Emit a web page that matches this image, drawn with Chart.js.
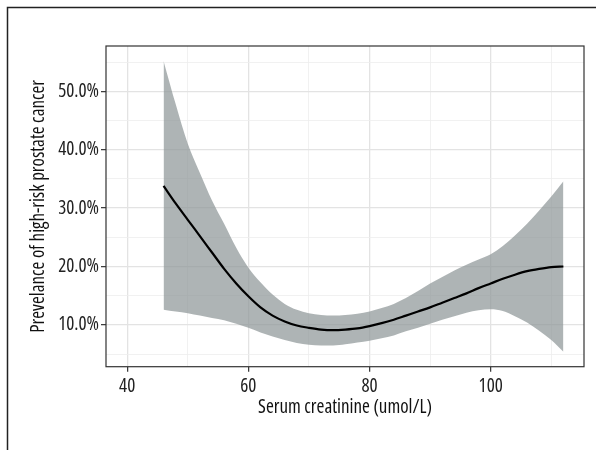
<!DOCTYPE html>
<html>
<head>
<meta charset="utf-8">
<script src="https://cdn.jsdelivr.net/npm/chart.js@4/dist/chart.umd.min.js"></script>
<style>
    html, body { margin: 0; padding: 0; background: #fff; }
    #wrap { width: 596px; height: 450px; position: relative; }
</style>
</head>
<body>
<div id="wrap"><canvas id="curveChart" width="596" height="450"></canvas></div>
<script>
// Serum creatinine vs prevalence, smoothed curve with confidence band
const creatinine = [46, 48, 50, 52, 54, 56, 58, 60, 62, 64, 66, 68, 70, 72, 74, 76, 78,
    80, 82, 84, 86, 88, 90, 92, 94, 96, 98, 100, 102, 104, 106, 108, 110, 112];
const prevalence = [33.8, 30.8, 28.0, 25.2, 22.4, 19.6, 17.1, 14.9, 13.0, 11.6, 10.6, 9.9, 9.5, 9.2, 9.1, 9.2, 9.4,
    9.8, 10.3, 10.9, 11.6, 12.3, 13.0, 13.8, 14.6, 15.4, 16.3, 17.1, 17.9, 18.6, 19.2, 19.6, 19.9, 20.0];
const upperCI = [55.2, 47.8, 41.0, 36.0, 31.3, 27.3, 23.2, 19.8, 17.3, 15.2, 13.6, 12.6, 12.0, 11.7, 11.6, 11.7, 11.9,
    12.3, 12.9, 13.6, 14.6, 15.8, 17.1, 18.2, 19.3, 20.3, 21.2, 22.1, 23.5, 25.3, 27.3, 29.6, 32.0, 34.6];
const lowerCI = [12.6, 12.3, 12.0, 11.6, 11.2, 10.8, 10.2, 9.5, 8.7, 8.0, 7.4, 6.9, 6.6, 6.5, 6.5, 6.7, 7.0,
    7.3, 7.7, 8.2, 8.9, 9.5, 10.2, 10.9, 11.5, 12.1, 12.5, 12.7, 12.4, 11.5, 10.4, 9.0, 7.4, 5.4];
const xTicks = [40, 50, 60, 70, 80, 90, 100, 110];
const yTicks = [5, 10, 15, 20, 25, 30, 35, 40, 45, 50, 55];

// узкий шрифт: Open Sans со stretch condensed (через поле weight попадает в строку ctx.font)
const axisFont = { family: "'Open Sans', sans-serif", size: 19, weight: "condensed" };

const toPoints = (ys) => creatinine.map((x, i) => ({ x: x, y: ys[i] }));

// рамка панели и внешняя рамка картинки
const framePlugin = {
    id: "frame",
    beforeDraw(chart) {
        const c = chart.ctx;
        c.save();
        c.fillStyle = "#fff";
        c.fillRect(0, 0, chart.width, chart.height);
        c.strokeStyle = "#222";
        c.lineWidth = 1.5;
        c.beginPath();
        c.moveTo(7.5, chart.height);
        c.lineTo(7.5, 7.5);
        c.lineTo(chart.width, 7.5);
        c.stroke();
        c.restore();
    },
    afterDraw(chart) {
        const a = chart.chartArea;
        const c = chart.ctx;
        c.save();
        c.strokeStyle = "#333";
        c.lineWidth = 1.2;
        c.strokeRect(a.left, a.top, a.right - a.left, a.bottom - a.top);
        c.restore();
    },
};

const isMajorX = (v) => v % 20 === 0;
const isMajorY = (v) => v % 10 === 0;

new Chart(document.getElementById("curveChart"), {
    type: "line",
    data: {
        datasets: [
            {
                label: "upper",
                data: toPoints(upperCI),
                borderWidth: 0,
                pointRadius: 0,
                backgroundColor: "rgba(140, 148, 150, 0.7)",
                fill: "+1",
                order: 2,
                cubicInterpolationMode: "monotone",
            },
            {
                label: "lower",
                data: toPoints(lowerCI),
                borderWidth: 0,
                pointRadius: 0,
                fill: false,
                order: 2,
                cubicInterpolationMode: "monotone",
            },
            {
                label: "fit",
                data: toPoints(prevalence),
                borderColor: "#000",
                borderWidth: 2.2,
                pointRadius: 0,
                fill: false,
                order: 0,
                cubicInterpolationMode: "monotone",
            },
        ],
    },
    options: {
        responsive: false,
        animation: false,
        layout: { padding: { top: 46, right: 12, left: 0, bottom: 0 } },
        plugins: {
            legend: { display: false },
            tooltip: { enabled: false },
        },
        scales: {
            x: {
                type: "linear",
                min: 36.5,
                max: 115.4,
                afterBuildTicks: (scale) => {
                    scale.ticks = xTicks.map((v) => ({ value: v }));
                },
                afterFit: (scale) => {
                    scale.height = 83.3;
                },
                border: { display: false },
                grid: {
                    color: (ctx) => (isMajorX(ctx.tick.value) ? "#e3e3e3" : "#eeeeee"),
                    lineWidth: (ctx) => (isMajorX(ctx.tick.value) ? 1.3 : 0.8),
                    tickColor: (ctx) => (isMajorX(ctx.tick.value) ? "#333" : "rgba(0,0,0,0)"),
                    tickLength: 5,
                    tickWidth: 1.2,
                },
                ticks: {
                    color: "#222",
                    padding: 3,
                    maxRotation: 0,
                    autoSkip: false,
                    font: axisFont,
                    callback: (v) => (isMajorX(v) ? String(v) : ""),
                },
                title: {
                    display: true,
                    text: "Serum creatinine (umol/L)",
                    color: "#111",
                    font: axisFont,
                    padding: { top: 0, bottom: 31 },
                },
            },
            y: {
                type: "linear",
                min: 2.85,
                max: 57.75,
                afterBuildTicks: (scale) => {
                    scale.ticks = yTicks.map((v) => ({ value: v }));
                },
                afterFit: (scale) => {
                    scale.width = 106;
                },
                border: { display: false },
                grid: {
                    color: (ctx) => (isMajorY(ctx.tick.value) ? "#e3e3e3" : "#eeeeee"),
                    lineWidth: (ctx) => (isMajorY(ctx.tick.value) ? 1.3 : 0.8),
                    tickColor: (ctx) => (isMajorY(ctx.tick.value) ? "#333" : "rgba(0,0,0,0)"),
                    tickLength: 5,
                    tickWidth: 1.2,
                },
                ticks: {
                    color: "#222",
                    padding: 2,
                    autoSkip: false,
                    font: axisFont,
                    callback: (v) => (isMajorY(v) ? v.toFixed(1) + "%" : ""),
                },
                title: {
                    display: true,
                    text: "Prevelance of high-risk prostate cancer",
                    color: "#111",
                    font: axisFont,
                    padding: { top: 27, bottom: 0 },
                },
            },
        },
    },
    plugins: [framePlugin],
});
</script>
</body>
</html>
